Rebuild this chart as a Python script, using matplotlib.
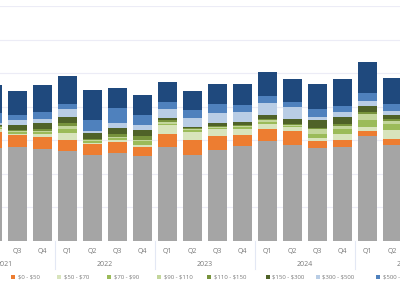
import matplotlib
matplotlib.use("Agg")
import matplotlib.pyplot as plt
from matplotlib.patches import Rectangle
import numpy as np

plt.rcParams["text.parse_math"] = False

# quarters shown (first and last are cut by the frame)
quarters = ["Q2", "Q3", "Q4", "Q1", "Q2", "Q3", "Q4", "Q1", "Q2", "Q3", "Q4",
            "Q1", "Q2", "Q3", "Q4", "Q1", "Q2"]
years = ["2021", "2022", "2023", "2024", "2025"]

# stacked segments, bottom to top
other = [27.7, 27.9, 27.3, 26.8, 25.6, 26.3, 25.3, 27.9, 25.6, 27.1, 28.3, 29.8, 28.6, 27.6, 28.1, 31.3, 28.6]
p0_50 = [4.9, 3.7, 3.6, 3.4, 3.2, 3.3, 2.8, 4.1, 4.5, 4.2, 3.4, 3.5, 4.3, 2.2, 2.0, 1.5, 1.9]
p50_70 = [0.7, 0.4, 1.1, 1.9, 0.5, 0.5, 0.4, 2.5, 2.4, 2.1, 1.8, 1.6, 1.0, 0.8, 1.7, 1.3, 2.5]
p70_90 = [0.4, 0.4, 0.6, 1.2, 0.4, 0.5, 1.2, 0.4, 0.6, 0.4, 0.5, 0.6, 0.4, 1.3, 1.6, 1.8, 1.8]
p90_110 = [0.3, 0.4, 0.3, 0.9, 0.3, 0.5, 0.4, 0.4, 0.3, 0.2, 0.3, 0.4, 0.3, 1.5, 0.9, 1.8, 1.0]
p110_150 = [0.2, 0.3, 0.6, 0.9, 0.4, 0.7, 1.3, 0.6, 0.3, 0.4, 0.4, 0.4, 0.4, 0.4, 0.6, 0.7, 0.4]
p150_300 = [0.5, 1.5, 1.6, 1.9, 1.7, 1.9, 1.6, 0.8, 0.4, 0.8, 0.7, 1.3, 1.2, 2.1, 2.0, 1.9, 1.4]
p300_500 = [0.4, 1.3, 1.1, 2.2, 0.8, 1.5, 1.5, 2.5, 2.5, 2.8, 2.9, 3.6, 3.6, 1.0, 1.4, 1.4, 1.0]
p500_1000 = [3.0, 1.5, 2.3, 1.7, 3.2, 4.5, 3.0, 2.2, 2.4, 2.7, 2.3, 2.1, 1.5, 2.4, 2.0, 2.3, 2.2]
p1000 = [8.3, 7.4, 8.0, 8.1, 8.8, 5.8, 6.0, 6.0, 5.7, 6.0, 6.1, 6.9, 7.1, 7.4, 8.0, 9.4, 7.7]

labels = ["Other", "$0 - $50", "$50 - $70", "$70 - $90", "$90 - $110", "$110 - $150",
          "$150 - $300", "$300 - $500", "$500 - $1000", "$1000+"]
colors = ["#a5a5a5", "#ed7d31", "#d8e4bc", "#9bbb59", "#c3d69b", "#77933c",
          "#4f6228", "#b9cde5", "#4f81bd", "#1f497d"]
series = [other, p0_50, p50_70, p70_90, p90_110, p110_150, p150_300, p300_500, p500_1000, p1000]

fig = plt.figure(figsize=(4, 2.83), dpi=100)
ax = fig.add_axes([0, 42 / 283, 1, 235 / 283])

x = np.arange(len(quarters))
bottom = np.zeros(len(quarters))
for vals, col in zip(series, colors):
    ax.bar(x, vals, bottom=bottom, width=0.76, color=col, linewidth=0, zorder=2)
    bottom += np.array(vals)

ax.set_xlim(0.3, 16.3)
ax.set_ylim(0, 70)
ax.set_yticks(range(0, 71, 10))
ax.yaxis.grid(True, color="#ececf6", linewidth=0.8, zorder=0)
ax.set_yticklabels([])
ax.tick_params(length=0)
ax.set_xticks([])
for s in ax.spines.values():
    s.set_visible(False)

tr = ax.get_xaxis_transform()
txt = dict(color="#7a7a7a", fontsize=5, family="Open Sans", ha="center", va="center")
# the first quarter's label sits outside the crop, so start at index 1
for i, q in enumerate(quarters[1:], start=1):
    ax.text(i, -10 / 235, q, transform=tr, clip_on=False, **txt)
for k, y in enumerate(years):
    ax.text(4 * k + 0.5, -24 / 235, y, transform=tr, clip_on=False, **txt)
for k in range(4):
    ax.plot([4 * k + 2.5] * 2, [0, -28 / 235], transform=tr, clip_on=False,
            color="#e3e8f4", linewidth=0.8)

# legend, laid out by hand like the source
leg_x = [-37, 13.3, 59.3, 109.3, 159.3, 209.3, 267.7, 317.7, 378.3, 440]
leg_y = 283 - 276.7
for lx, lab, col in zip(leg_x, labels, colors):
    fig.add_artist(Rectangle(((lx - 2) / 400, (leg_y - 2) / 283), 4 / 400, 4 / 283,
                             transform=fig.transFigure, color=col, linewidth=0))
    fig.text((lx + 4.5) / 400, leg_y / 283, lab, color="#7a7a7a", fontsize=4.3,
             family="Open Sans", ha="left", va="center")

fig.savefig("out.png", dpi=100)
